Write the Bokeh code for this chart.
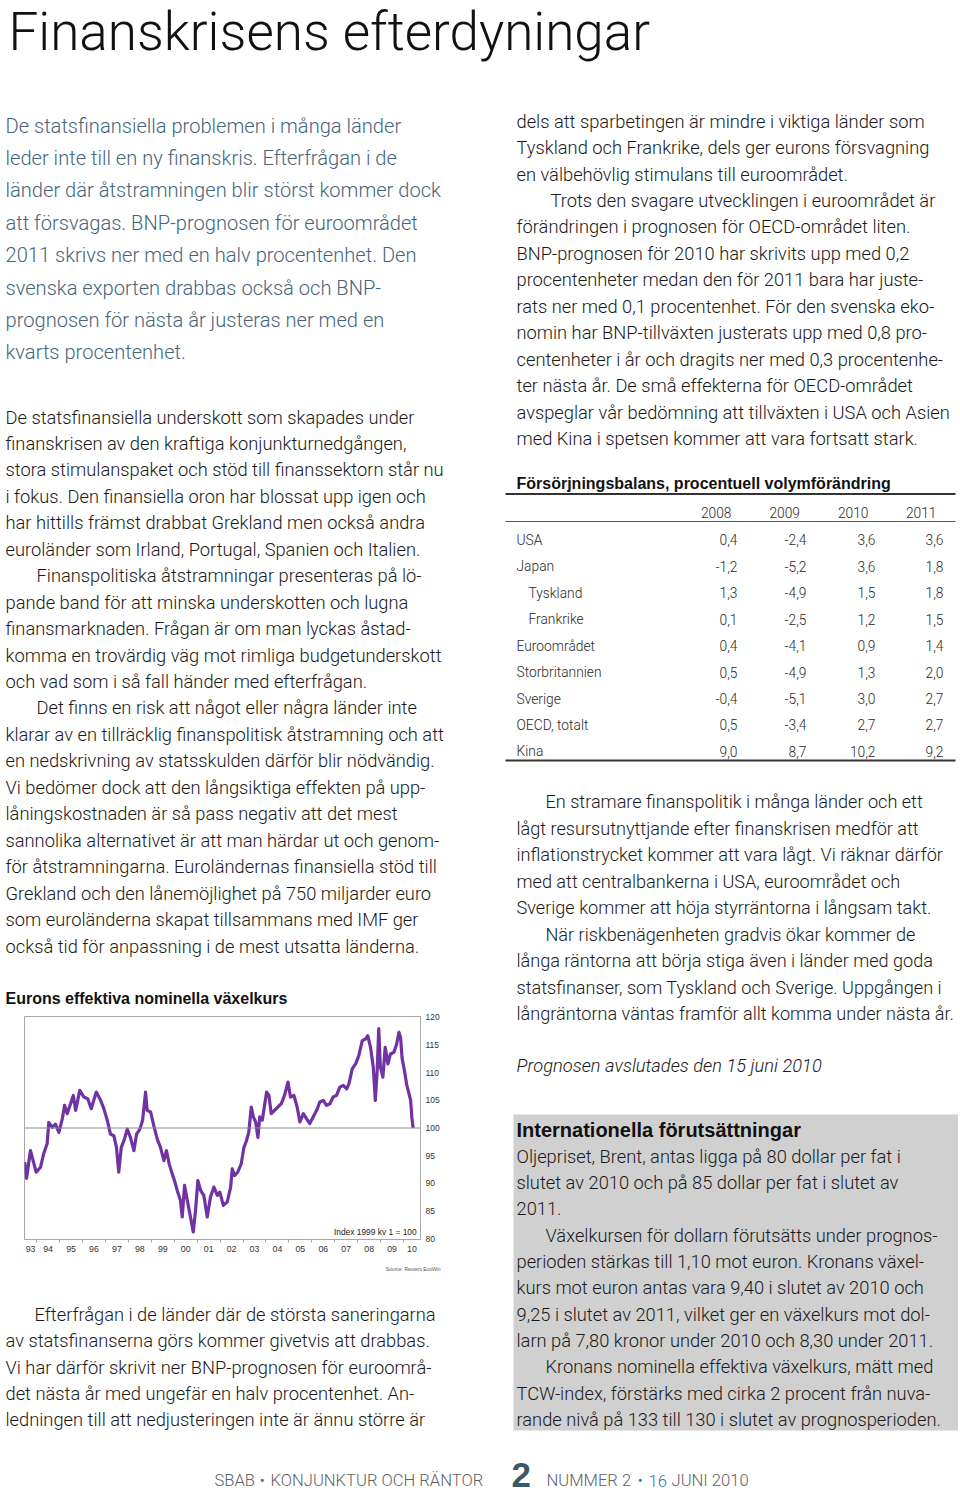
from bokeh.plotting import figure
from bokeh.layouts import column, row
from bokeh.models import Range1d, FixedTicker, Span, Label, BoxAnnotation, Plot
from bokeh.core.properties import value
from bokeh.embed import file_html
from bokeh.resources import INLINE

# ---------------- content ----------------
TITLE = "Finanskrisens efterdyningar"

INTRO_LINES = [
    "De statsfinansiella problemen i många länder",
    "leder inte till en ny finanskris. Efterfrågan i de",
    "länder där åtstramningen blir störst kommer dock",
    "att försvagas. BNP-prognosen för euroområdet",
    "2011 skrivs ner med en halv procentenhet. Den",
    "svenska exporten drabbas också och BNP-",
    "prognosen för nästa år justeras ner med en",
    "kvarts procentenhet.",
]

LEFT_BODY = [
    "De statsfinansiella underskott som skapades under",
    "finanskrisen av den kraftiga konjunkturnedgången,",
    "stora stimulanspaket och stöd till finanssektorn står nu",
    "i fokus. Den finansiella oron har blossat upp igen och",
    "har hittills främst drabbat Grekland men också andra",
    "euroländer som Irland, Portugal, Spanien och Italien.",
    "Finanspolitiska åtstramningar presenteras på lö-",
    "pande band för att minska underskotten och lugna",
    "finansmarknaden. Frågan är om man lyckas åstad-",
    "komma en trovärdig väg mot rimliga budgetunderskott",
    "och vad som i så fall händer med efterfrågan.",
    "Det finns en risk att något eller några länder inte",
    "klarar av en tillräcklig finanspolitisk åtstramning och att",
    "en nedskrivning av statsskulden därför blir nödvändig.",
    "Vi bedömer dock att den långsiktiga effekten på upp-",
    "låningskostnaden är så pass negativ att det mest",
    "sannolika alternativet är att man härdar ut och genom-",
    "för åtstramningarna. Euroländernas finansiella stöd till",
    "Grekland och den lånemöjlighet på 750 miljarder euro",
    "som euroländerna skapat tillsammans med IMF ger",
    "också tid för anpassning i de mest utsatta länderna.",
]
LEFT_BODY_INDENT = [6, 11]

CHART_TITLE = "Eurons effektiva nominella växelkurs"
CHART_NOTE = "Index 1999 kv 1 = 100"
CHART_SOURCE = "Source: Reuters EcoWin"

LEFT_BOTTOM = [
    "Efterfrågan i de länder där de största saneringarna",
    "av statsfinanserna görs kommer givetvis att drabbas.",
    "Vi har därför skrivit ner BNP-prognosen för euroområ-",
    "det nästa år med ungefär en halv procentenhet. An-",
    "ledningen till att nedjusteringen inte är ännu större är",
]
LEFT_BOTTOM_INDENT = [0]

RIGHT_TOP = [
    "dels att sparbetingen är mindre i viktiga länder som",
    "Tyskland och Frankrike, dels ger eurons försvagning",
    "en välbehövlig stimulans till euroområdet.",
    "Trots den svagare utvecklingen i euroområdet är",
    "förändringen i prognosen för OECD-området liten.",
    "BNP-prognosen för 2010 har skrivits upp med 0,2",
    "procentenheter medan den för 2011 bara har juste-",
    "rats ner med 0,1 procentenhet. För den svenska eko-",
    "nomin har BNP-tillväxten justerats upp med 0,8 pro-",
    "centenheter i år och dragits ner med 0,3 procentenhe-",
    "ter nästa år. De små effekterna för OECD-området",
    "avspeglar vår bedömning att tillväxten i USA och Asien",
    "med Kina i spetsen kommer att vara fortsatt stark.",
]
RIGHT_TOP_INDENT = [3]

TABLE_TITLE = "Försörjningsbalans, procentuell volymförändring"
TABLE_YEARS = ["2008", "2009", "2010", "2011"]
TABLE_ROWS = ["USA", "Japan", "Tyskland", "Frankrike", "Euroområdet",
              "Storbritannien", "Sverige", "OECD, totalt", "Kina"]
TABLE_INDENTED = ["Tyskland", "Frankrike"]
GDP_2008 = [0.4, -1.2, 1.3, 0.1, 0.4, 0.5, -0.4, 0.5, 9.0]
GDP_2009 = [-2.4, -5.2, -4.9, -2.5, -4.1, -4.9, -5.1, -3.4, 8.7]
GDP_2010 = [3.6, 3.6, 1.5, 1.2, 0.9, 1.3, 3.0, 2.7, 10.2]
GDP_2011 = [3.6, 1.8, 1.8, 1.5, 1.4, 2.0, 2.7, 2.7, 9.2]

RIGHT_MID = [
    "En stramare finanspolitik i många länder och ett",
    "lågt resursutnyttjande efter finanskrisen medför att",
    "inflationstrycket kommer att vara lågt. Vi räknar därför",
    "med att centralbankerna i USA, euroområdet och",
    "Sverige kommer att höja styrräntorna i långsam takt.",
    "När riskbenägenheten gradvis ökar kommer de",
    "långa räntorna att börja stiga även i länder med goda",
    "statsfinanser, som Tyskland och Sverige. Uppgången i",
    "långräntorna väntas framför allt komma under nästa år.",
]
RIGHT_MID_INDENT = [0, 5]

PROGNOS_NOTE = "Prognosen avslutades den 15 juni 2010"

BOX_TITLE = "Internationella förutsättningar"
BOX_LINES = [
    "Oljepriset, Brent, antas ligga på 80 dollar per fat i",
    "slutet av 2010 och på 85 dollar per fat i slutet av",
    "2011.",
    "Växelkursen för dollarn förutsätts under prognos-",
    "perioden stärkas till 1,10 mot euron. Kronans växel-",
    "kurs mot euron antas vara 9,40 i slutet av 2010 och",
    "9,25 i slutet av 2011, vilket ger en växelkurs mot dol-",
    "larn på 7,80 kronor under 2010 och 8,30 under 2011.",
    "Kronans nominella effektiva växelkurs, mätt med",
    "TCW-index, förstärks med cirka 2 procent från nuva-",
    "rande nivå på 133 till 130 i slutet av prognosperioden.",
]
BOX_INDENT = [3, 8]

FOOTER_LEFT = ["SBAB", "•", "KONJUNKTUR OCH RÄNTOR"]
FOOTER_PAGE = "2"
FOOTER_RIGHT = ["NUMMER 2", "•", "16", "JUNI 2010"]

# Euro effective nominal exchange rate (index 1999 Q1 = 100)
EUR_YEAR = [
    1993.48, 1993.56, 1993.73, 1993.98, 1994.17, 1994.31, 1994.46, 1994.53, 1994.68, 1994.82,
    1994.97, 1995.12, 1995.22, 1995.33, 1995.43, 1995.60, 1995.70, 1995.88, 1996.06, 1996.23,
    1996.38, 1996.60, 1996.79, 1996.93, 1997.08, 1997.22, 1997.37, 1997.48, 1997.58, 1997.69,
    1997.83, 1997.95, 1998.09, 1998.24, 1998.36, 1998.50, 1998.62, 1998.75, 1998.82, 1998.97,
    1999.11, 1999.26, 1999.40, 1999.55, 1999.66, 1999.78, 1999.91, 2000.01, 2000.13, 2000.27,
    2000.35, 2000.45, 2000.57, 2000.68, 2000.83, 2000.93, 2001.03, 2001.15, 2001.29, 2001.44,
    2001.58, 2001.73, 2001.88, 2001.99, 2002.14, 2002.31, 2002.46, 2002.53, 2002.63, 2002.77,
    2002.92, 2003.04, 2003.15, 2003.25, 2003.36, 2003.45, 2003.55, 2003.65, 2003.73, 2003.84,
    2003.94, 2004.03, 2004.13, 2004.23, 2004.37, 2004.52, 2004.67, 2004.81, 2004.96, 2005.07,
    2005.22, 2005.36, 2005.48, 2005.63, 2005.77, 2005.91, 2006.06, 2006.21, 2006.35, 2006.50,
    2006.64, 2006.79, 2006.93, 2007.08, 2007.22, 2007.37, 2007.52, 2007.62, 2007.76, 2007.91,
    2008.05, 2008.20, 2008.34, 2008.44, 2008.56, 2008.68, 2008.77, 2008.85, 2008.92, 2008.99,
    2009.10, 2009.20, 2009.32, 2009.43, 2009.58, 2009.70, 2009.80, 2009.87, 2009.94, 2010.04,
    2010.13, 2010.22, 2010.31, 2010.36, 2010.42,
]
EUR_INDEX = [
    93.8, 90.9, 95.9, 92.0, 92.9, 95.4, 97.2, 101.0, 100.1, 100.7,
    99.2, 101.7, 104.1, 102.6, 103.8, 105.9, 103.2, 106.8, 105.6, 105.3,
    103.5, 106.5, 105.0, 103.5, 101.4, 98.9, 98.6, 96.5, 92.0, 96.5,
    98.0, 99.8, 98.3, 95.9, 98.9, 99.8, 101.4, 106.5, 103.2, 102.9,
    100.4, 98.0, 96.5, 94.1, 95.9, 93.5, 91.7, 90.5, 88.7, 86.9,
    83.9, 89.6, 86.9, 84.5, 81.2, 85.1, 90.5, 88.7, 87.8, 83.9,
    87.5, 89.3, 87.8, 88.4, 86.0, 86.6, 89.3, 92.6, 91.4, 92.0,
    93.5, 96.5, 97.7, 99.2, 103.8, 102.0, 101.1, 98.3, 102.0, 101.4,
    104.1, 106.5, 105.9, 102.6, 103.2, 103.8, 104.4, 105.9, 108.3, 105.6,
    105.9, 103.8, 101.1, 102.6, 101.7, 100.8, 102.0, 103.2, 104.7, 105.0,
    104.1, 104.4, 105.6, 105.9, 107.4, 107.7, 107.1, 108.0, 110.7, 111.6,
    113.1, 115.8, 116.1, 116.7, 114.6, 111.0, 105.0, 110.4, 118.0, 111.0,
    109.2, 114.6, 111.6, 113.4, 113.7, 115.2, 117.3, 116.4, 112.5, 110.4,
    108.0, 106.5, 105.0, 102.0, 100.0,
]
YEARS = list(range(1993, 2011))
Y_TICKS = [80, 85, 90, 95, 100, 105, 110, 115, 120]

# ---------------- page geometry (1 page px = 1 screen px) ----------------
PAGE_W = 958
PAGE_H = 1492
HAS_FRAME_ALIGN = "frame_align" in Plot.properties()

LIGHT = "'Roboto Light', 'Liberation Sans', sans-serif"
BOLD = "Liberation Sans"
TXT = "#1a1a1a"
BLUE_TXT = "#46657c"
BODY_SIZE = 18.3


def no_align(p):
    if HAS_FRAME_ALIGN:
        p.frame_align = False
    return p


def page_fig(x0, x1, y0, y1):
    p = figure(width=int(x1 - x0), height=int(y1 - y0),
               x_range=Range1d(x0, x1), y_range=Range1d(y1, y0),
               title=None, toolbar_location=None, output_backend="svg",
               x_axis_location=None, y_axis_location=None, min_border=0)
    p.grid.visible = False
    p.outline_line_color = None
    p.background_fill_color = "white"
    p.border_fill_color = "white"
    return no_align(p)


def put_lines(p, lines, x, yc, step, size, color, indent=(), ind=31,
              style="normal", align="left", font=LIGHT):
    xs = [x + (ind if i in indent else 0) for i in range(len(lines))]
    ys = [yc + i * step for i in range(len(lines))]
    p.text(x=xs, y=ys, text=lines, text_font=value(font),
           text_font_size=f"{size}px", text_font_style=style,
           text_color=color, text_baseline="middle", text_align=align)


def fmt(v):
    return f"{v:.1f}".replace(".", ",")


# ---------------- header ----------------
header = page_fig(0, PAGE_W, 0, 100)
put_lines(header, [TITLE], 8, 31.5, 0, 53, "#111111")

# ---------------- left column, top ----------------
left_top = page_fig(0, 470, 100, 1006)
put_lines(left_top, INTRO_LINES, 5, 125, 32.4, 20.1, BLUE_TXT)
put_lines(left_top, LEFT_BODY, 5, 416.5, 26.45, BODY_SIZE, TXT, indent=LEFT_BODY_INDENT)
put_lines(left_top, [CHART_TITLE], 5, 998, 0, 16, "#111111", style="bold", font=BOLD)

# ---------------- chart ----------------
cw, ch = 470, 1260 - 1006
chart = figure(width=cw, height=ch, title=None, toolbar_location=None,
               output_backend="svg",
               x_range=Range1d(1993.47, 2010.74), y_range=Range1d(79.82, 120.18),
               x_axis_location="below", y_axis_location="right",
               min_border_left=24, min_border_right=cw - 420,
               min_border_top=1016 - 1006, min_border_bottom=1260 - 1239)
no_align(chart)
chart.grid.visible = False
chart.outline_line_color = "#a8a8a8"
chart.outline_line_width = 1
chart.background_fill_color = "white"
chart.border_fill_color = "white"

chart.add_layout(Span(location=100, dimension="width", line_color="#8a8a8a",
                      line_width=1))
chart.line(EUR_YEAR, EUR_INDEX, line_color="#7132a4", line_width=3.2,
           line_join="round")

x0r, x1r = chart.x_range.start, chart.x_range.end
label_pos = [(max(y, x0r) + min(y + 1, x1r)) / 2 for y in YEARS]
xa = chart.xaxis[0]
xa.ticker = FixedTicker(ticks=label_pos, minor_ticks=YEARS[1:])
xa.major_label_overrides = {pos: f"{y % 100:02d}" for pos, y in zip(label_pos, YEARS)}
xa.major_tick_out = 0
xa.major_tick_in = 0
xa.minor_tick_out = 3
xa.minor_tick_in = 0
xa.minor_tick_line_color = "#a8a8a8"
xa.axis_line_color = "#a8a8a8"
xa.major_label_standoff = 3
xa.major_label_text_font = BOLD
xa.major_label_text_font_size = "8.8px"
xa.major_label_text_color = "#333333"

ya = chart.yaxis[0]
ya.ticker = FixedTicker(ticks=Y_TICKS)
ya.major_tick_out = 0
ya.major_tick_in = 0
ya.minor_tick_out = 0
ya.minor_tick_in = 0
ya.axis_line_color = None
ya.major_label_standoff = 5
ya.major_label_text_font = BOLD
ya.major_label_text_font_size = "8.5px"
ya.major_label_text_color = "#333333"

chart.add_layout(Label(x=2010.57, y=81.1, text=CHART_NOTE, text_align="right",
                       text_baseline="middle", text_font=BOLD,
                       text_font_size="8.4px", text_color="#222222"))

# ---------------- left column, bottom ----------------
left_bot = page_fig(0, 470, 1260, 1450)
put_lines(left_bot, [CHART_SOURCE], 440, 1268, 0, 5, "#555555", align="right",
          font=BOLD)
put_lines(left_bot, LEFT_BOTTOM, 5, 1314, 26.25, BODY_SIZE, TXT,
          indent=LEFT_BOTTOM_INDENT, ind=29)

# ---------------- right column ----------------
right = page_fig(470, PAGE_W, 100, 1450)

# grey box (behind text)
right.add_layout(BoxAnnotation(left=513, right=958, top=1114, bottom=1430,
                               fill_color="#d0d0d0", fill_alpha=1.0,
                               line_color=None, level="underlay"))

put_lines(right, RIGHT_TOP, 516, 120.7, 26.44, BODY_SIZE, TXT,
          indent=RIGHT_TOP_INDENT, ind=34)

# table
put_lines(right, [TABLE_TITLE], 516, 483, 0, 16, "#111111", style="bold", font=BOLD)
right.segment(x0=[505, 505, 505], y0=[493.5, 521, 760],
              x1=[955, 955, 955], y1=[493.5, 521, 760],
              line_color=["#333333", "#555555", "#333333"],
              line_width=[1.8, 1.1, 2.0])
year_x = [731, 799.5, 868, 936]
right.text(x=year_x, y=[512] * 4, text=TABLE_YEARS,
           text_font=value(LIGHT), text_font_size="13.8px", text_color="#2a2a2a",
           text_align="right", text_baseline="middle")

row_y = [539.3 + i * 26.45 for i in range(len(TABLE_ROWS))]
row_x = [516 + (12 if r in TABLE_INDENTED else 0) for r in TABLE_ROWS]
right.text(x=row_x, y=row_y, text=TABLE_ROWS, text_font=value(LIGHT),
           text_font_size="13.8px", text_color="#2a2a2a",
           text_baseline="middle")
val_x = [737, 806, 875, 943]
for xv, series in zip(val_x, [GDP_2008, GDP_2009, GDP_2010, GDP_2011]):
    right.text(x=[xv] * len(series), y=row_y, text=[fmt(v) for v in series],
               text_font=value(LIGHT), text_font_size="13.8px",
               text_color="#2a2a2a", text_align="right",
               text_baseline="middle")

put_lines(right, RIGHT_MID, 516, 801, 26.5, 18.1, TXT,
          indent=RIGHT_MID_INDENT, ind=29)
put_lines(right, [PROGNOS_NOTE], 516, 1065, 0, BODY_SIZE, TXT, style="italic")

put_lines(right, [BOX_TITLE], 516, 1129, 0, 20, "#111111", style="bold", font=BOLD)
put_lines(right, BOX_LINES, 516, 1155.7, 26.33, BODY_SIZE, TXT, indent=BOX_INDENT, ind=29)

# ---------------- footer ----------------
footer = page_fig(0, PAGE_W, 1450, PAGE_H)
GREY = "#5f6266"
FBLUE = "#2d7db3"
fl_x = [214, 259, 270]
fl_c = [GREY, FBLUE, GREY]
footer.text(x=fl_x, y=[1480] * 3, text=FOOTER_LEFT, text_font=value(LIGHT),
            text_font_size="16.6px", text_color=fl_c, text_baseline="middle")
footer.text(x=[511], y=[1474], text=[FOOTER_PAGE], text_font=value(BOLD),
            text_font_size="35px", text_font_style="bold", text_color="#3d576a",
            text_baseline="middle")
fr_x = [546, 637, 648, 671]
fr_c = [GREY, FBLUE, FBLUE, GREY]
footer.text(x=fr_x, y=[1480] * 4, text=FOOTER_RIGHT, text_font=value(LIGHT),
            text_font_size="16.6px", text_color=fr_c, text_baseline="middle")

# ---------------- layout ----------------
left = column(left_top, chart, left_bot, spacing=0)
mid = row(left, right, spacing=0)
page = column(header, mid, footer, spacing=0)

open("out.html", "w").write(file_html(page, INLINE, "Finanskrisens efterdyningar"))
